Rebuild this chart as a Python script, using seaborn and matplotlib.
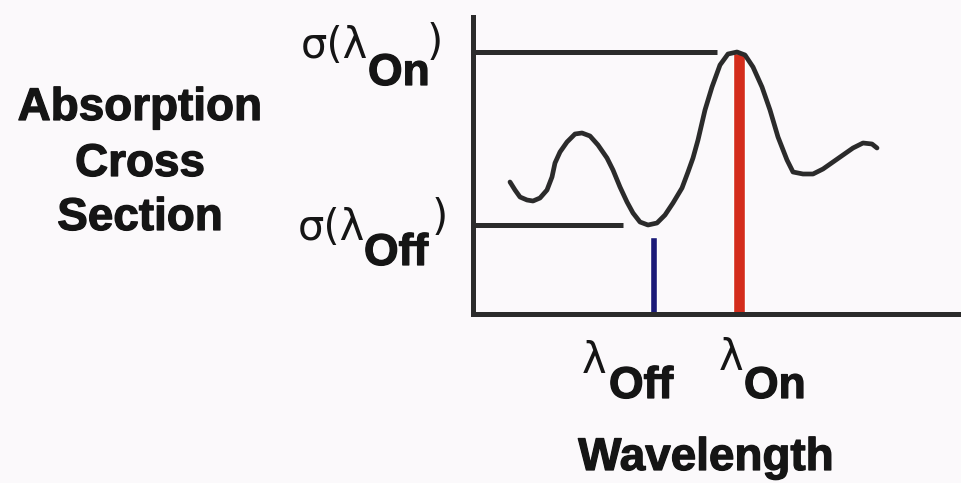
import matplotlib
matplotlib.use("Agg")
import matplotlib.pyplot as plt
import matplotlib.patheffects as pe
import seaborn as sns
import pandas as pd

# ---- data (arbitrary schematic units) ----
wavelength = [37, 42, 47, 54, 60, 67, 74, 79, 82, 87, 94, 102, 109, 117, 125, 134, 140,
              147, 154, 160, 167, 175, 184, 192, 200, 209, 215, 220, 225, 232, 239, 247,
              255, 264, 272, 280, 289, 297, 305, 314, 320, 330, 340, 350, 360, 370, 380,
              390, 399, 404]
cross_section = [132, 124, 117, 114, 113, 116, 124, 137, 151, 162, 172, 180, 181, 178, 169,
                 156, 144, 127, 112, 101, 92, 89, 91, 99, 111, 126, 142, 156, 174, 204, 227,
                 249, 260, 262, 259, 247, 227, 204, 177, 154, 142, 140, 140, 145, 152, 159,
                 166, 171, 170, 166]

lambda_off = 180
lambda_on = 266
sigma_off = 89
sigma_on = 262
off_bar_height = 77
on_bar_height = 261
sigma_on_line_end = 244
sigma_off_line_end = 150

W, H = 961, 483
BG = "#fbf9fb"
INK = "#2b2b2b"
TXT = "#151515"

sns.set_style("white")
plt.rcParams["font.family"] = ["DejaVu Sans"]

fig = plt.figure(figsize=(W / 100, H / 100), dpi=100, facecolor=BG)
ax = fig.add_axes([473 / W, 1 - 314 / H, 485 / W, 297 / H])
ax.set_facecolor(BG)

df = pd.DataFrame({"wavelength": wavelength, "cross_section": cross_section})

# bars
ax.bar([lambda_on], [on_bar_height], width=12, color="#d42d1c", zorder=2)
ax.bar([lambda_off], [off_bar_height], width=7, color="#1b1b78", zorder=2)

# reference lines
ax.hlines([sigma_on], 0, sigma_on_line_end, color=INK, linewidth=3.6, zorder=3)
ax.hlines([sigma_off], 0, sigma_off_line_end, color=INK, linewidth=3.6, zorder=3)

# curve
sns.lineplot(data=df, x="wavelength", y="cross_section", ax=ax, color=INK,
             linewidth=3.4, zorder=4, sort=False)
ax.lines[-1].set_solid_joinstyle("round")
ax.lines[-1].set_solid_capstyle("round")

ax.set_xlim(0, 485)
ax.set_ylim(0, 297)
ax.set_xticks([])
ax.set_yticks([])
ax.set_xlabel("")
ax.set_ylabel("")
for s in ["top", "right"]:
    ax.spines[s].set_visible(False)
for s in ["left", "bottom"]:
    ax.spines[s].set_color(INK)
    ax.spines[s].set_linewidth(3.6)


def ftext(x, y, s, **kw):
    fig.text(x / W, 1 - y / H, s, va="baseline", **kw)


heavy = [pe.withStroke(linewidth=0.9, foreground=TXT)]
bold = dict(family=["Liberation Sans", "DejaVu Sans"], fontweight="bold", fontsize=33,
            color=TXT, path_effects=heavy)
sub = dict(family=["Liberation Sans", "DejaVu Sans"], fontweight="bold", fontsize=32,
           color=TXT, path_effects=heavy)
reg = dict(family=["DejaVu Sans"], fontsize=30, color=TXT)

# y-axis title
ftext(140, 120, "Absorption", ha="center", **bold)
ftext(140, 176, "Cross", ha="center", **bold)
ftext(140, 230, "Section", ha="center", **bold)

# x-axis title
ftext(706, 470, "Wavelength", ha="center", **bold)

# sigma labels
ftext(301, 58, "σ(λ", ha="left", **reg)
ftext(368, 85, "On", ha="left", **sub)
ftext(427, 55, ")", ha="left", **reg)

ftext(298, 240, "σ(λ", ha="left", **reg)
ftext(364, 265, "Off", ha="left", **sub)
ftext(432, 230, ")", ha="left", **reg)

# lambda labels
ftext(582, 373, "λ", ha="left", **reg)
ftext(609, 398, "Off", ha="left", **sub)
ftext(719, 370, "λ", ha="left", **reg)
ftext(744, 398, "On", ha="left", **sub)

fig.savefig("out.png", dpi=100, facecolor=BG)
